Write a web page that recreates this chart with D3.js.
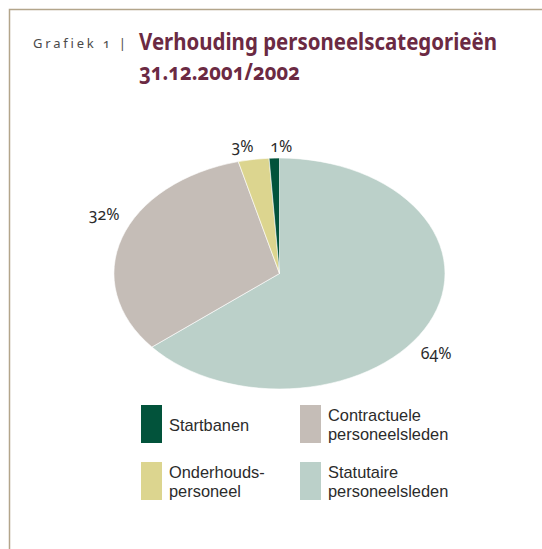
<!DOCTYPE html>
<html>
<head>
<meta charset="utf-8">
<script src="https://cdn.jsdelivr.net/npm/d3@7/dist/d3.min.js"></script>
<style>
  html, body { margin: 0; padding: 0; background: #fff; }
  svg { display: block; font-family: "Noto Sans", "Open Sans", sans-serif; font-variant-numeric: oldstyle-nums; }
</style>
</head>
<body>
<svg id="chart" width="542" height="549"></svg>
<script>
// Personnel categories on 31.12.2001/2002 (percent of total)
const categories = ["Statutaire personeelsleden", "Contractuele personeelsleden", "Onderhoudspersoneel", "Startbanen"];
const values = [64, 32, 3, 1];
const valueLabels = ["64%", "32%", "3%", "1%"];
const colors = ["#bbd0c9", "#c5bdb7", "#dcd58f", "#02533b"];

// Legend entries (two-line names), in legend order
const legendNames = [
  ["Startbanen"],
  ["Contractuele", "personeelsleden"],
  ["Onderhouds-", "personeel"],
  ["Statutaire", "personeelsleden"]
];
const legendIndex = [3, 1, 2, 0];

const svg = d3.select("#chart");
const W = 542, H = 549;

// Frame: thin tan rule along the top and left
svg.append("path")
  .attr("d", `M9.5,${H} V9.5 H${W}`)
  .attr("fill", "none")
  .attr("stroke", "#b3a58b")
  .attr("stroke-width", 1.5);

// Heading
svg.append("text")
  .attr("x", 33).attr("y", 48)
  .attr("font-size", 13)
  .attr("letter-spacing", 2.8)
  .attr("fill", "#4a4a4a")
  .text("Grafiek 1 |");
svg.append("text")
  .attr("x", 139).attr("y", 50)
  .attr("font-size", 22.5)
  .attr("font-weight", "bold")
  .attr("fill", "#6b2a43")
  .attr("textLength", 358)
  .attr("lengthAdjust", "spacingAndGlyphs")
  .text("Verhouding personeelscategorieën");
svg.append("text")
  .attr("x", 139).attr("y", 80)
  .attr("font-size", 22.5)
  .attr("font-weight", "bold")
  .attr("fill", "#6b2a43")
  .attr("textLength", 161)
  .attr("lengthAdjust", "spacingAndGlyphs")
  .text("31.12.2001/2002");

// Elliptical pie: a unit pie stretched horizontally and vertically
const cx = 279.5, cy = 273.5, rx = 165.5, ry = 115.5;
const pie = d3.pie().sort(null).value(d => d)(values);
const arc = d3.arc().innerRadius(0).outerRadius(1);

const g = svg.append("g").attr("transform", `translate(${cx},${cy}) scale(${rx},${ry})`);
g.selectAll("path")
  .data(pie)
  .join("path")
  .attr("d", arc)
  .attr("fill", (d, i) => colors[i])
  .attr("stroke", "#fff")
  .attr("stroke-width", 0.6)
  .attr("vector-effect", "non-scaling-stroke");

// Percentage labels, placed just outside the rim near each slice's mid angle
const labelNudge = [[7, 31], [-18, -23], [-11, -13], [7, -12]];
svg.selectAll("text.pct")
  .data(pie)
  .join("text")
  .attr("class", "pct")
  .attr("x", (d, i) => cx + rx * Math.sin((d.startAngle + d.endAngle) / 2) + labelNudge[i][0])
  .attr("y", (d, i) => cy - ry * Math.cos((d.startAngle + d.endAngle) / 2) + labelNudge[i][1])
  .attr("dy", "0.35em")
  .attr("text-anchor", "middle")
  .attr("font-size", 16)
  .attr("fill", "#2b2b2b")
  .text((d, i) => valueLabels[i]);

// Legend: 2 x 2 grid of swatches with names (compact font keeps the two lines apart)
const legendX = [141, 300], legendY = [405, 462];
const lg = svg.append("g").attr("font-family", "'Liberation Sans', Arial, sans-serif");
legendIndex.forEach((ci, k) => {
  const col = k % 2, row = Math.floor(k / 2);
  const x = legendX[col], y = legendY[row];
  lg.append("rect")
    .attr("x", x).attr("y", y)
    .attr("width", 21).attr("height", 38)
    .attr("fill", colors[ci]);
  const lines = legendNames[k];
  lines.forEach((s, j) => {
    lg.append("text")
      .attr("x", x + 28)
      .attr("y", (lines.length === 1 ? y + 26 : y + 16) + j * 18.5)
      .attr("font-size", 16.4)
      .attr("fill", "#2b2b2b")
      .text(s);
  });
});
</script>
</body>
</html>
